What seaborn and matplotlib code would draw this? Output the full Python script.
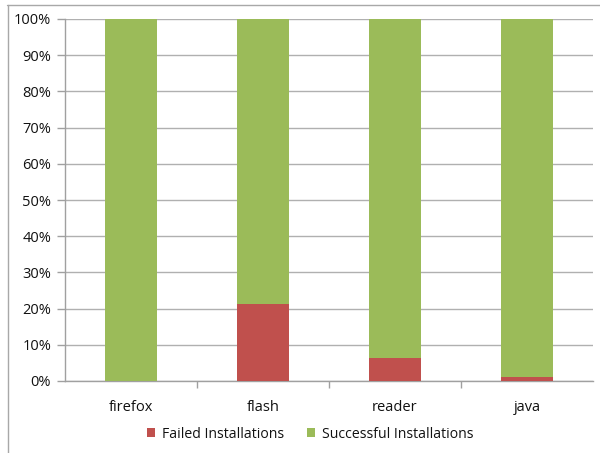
import numpy as np
import pandas as pd
import matplotlib
matplotlib.use('Agg')
import matplotlib.pyplot as plt
import seaborn as sns
from matplotlib.lines import Line2D
from matplotlib.patches import Patch

# data (percent of installations)
apps = ['firefox', 'flash', 'reader', 'java']
failed = [0.0, 21.4, 6.3, 1.1]
successful = [100 - f for f in failed]
series_names = ['Failed Installations', 'Successful Installations']
colors = ['#C0504D', '#9BBB59']

sns.set_theme(style='white')
plt.rcParams['font.family'] = ['Open Sans', 'DejaVu Sans']

df = pd.DataFrame({'app': apps, 'failed': failed, 'total': [f + s for f, s in zip(failed, successful)]})

fig = plt.figure(figsize=(6, 4.53), dpi=100)
ax = fig.add_axes([65 / 600, 1 - 381 / 453, 528 / 600, 362 / 453])

# stacked: draw the full bar in green, then the failed part in red on top
sns.barplot(data=df, x='app', y='total', color=colors[1], width=0.4, ax=ax,
            saturation=1, edgecolor='none', zorder=3)
sns.barplot(data=df, x='app', y='failed', color=colors[0], width=0.4, ax=ax,
            saturation=1, edgecolor='none', zorder=4)

ax.set_ylim(0, 100)
ax.set_xlim(-0.5, 3.5)
ax.set_yticks(np.arange(0, 101, 10))
ax.set_yticklabels([f'{v}%' for v in range(0, 101, 10)], fontsize=10.5, color='#111111')
ax.yaxis.grid(True, color='#b0b0b0', linewidth=1, zorder=0)
ax.set_axisbelow(True)
ax.set_xlabel('')
ax.set_ylabel('')
ax.tick_params(axis='x', which='major', length=0, pad=14, labelsize=10.5, labelcolor='#111111')
ax.set_xticks([0.5, 1.5, 2.5], minor=True)
ax.tick_params(axis='x', which='minor', length=5, color='#a0a0a0', width=1, bottom=True)
ax.tick_params(axis='y', length=6, color='#a0a0a0', width=1, left=True, pad=4)
for s in ['top', 'right']:
    ax.spines[s].set_visible(False)
for s in ['left', 'bottom']:
    ax.spines[s].set_color('#a0a0a0')
    ax.spines[s].set_linewidth(1)

handles = [Patch(facecolor=c, edgecolor='none') for c in colors]
fig.legend(handles, series_names, loc='center', bbox_to_anchor=(310 / 600, 1 - 434 / 453),
           ncol=2, frameon=False, fontsize=10.1, handlelength=0.6, handleheight=0.6,
           handletextpad=0.5, columnspacing=1.6, labelcolor='#111111')

# outer frame (only top and left edges are visible in the crop)
fig.add_artist(Line2D([7 / 600, 1], [1 - 4.5 / 453, 1 - 4.5 / 453], transform=fig.transFigure,
                      color='#a8a8a8', linewidth=1))
fig.add_artist(Line2D([7.5 / 600, 7.5 / 600], [0, 1 - 4.5 / 453], transform=fig.transFigure,
                      color='#a8a8a8', linewidth=1))

fig.savefig('out.png', dpi=100)
